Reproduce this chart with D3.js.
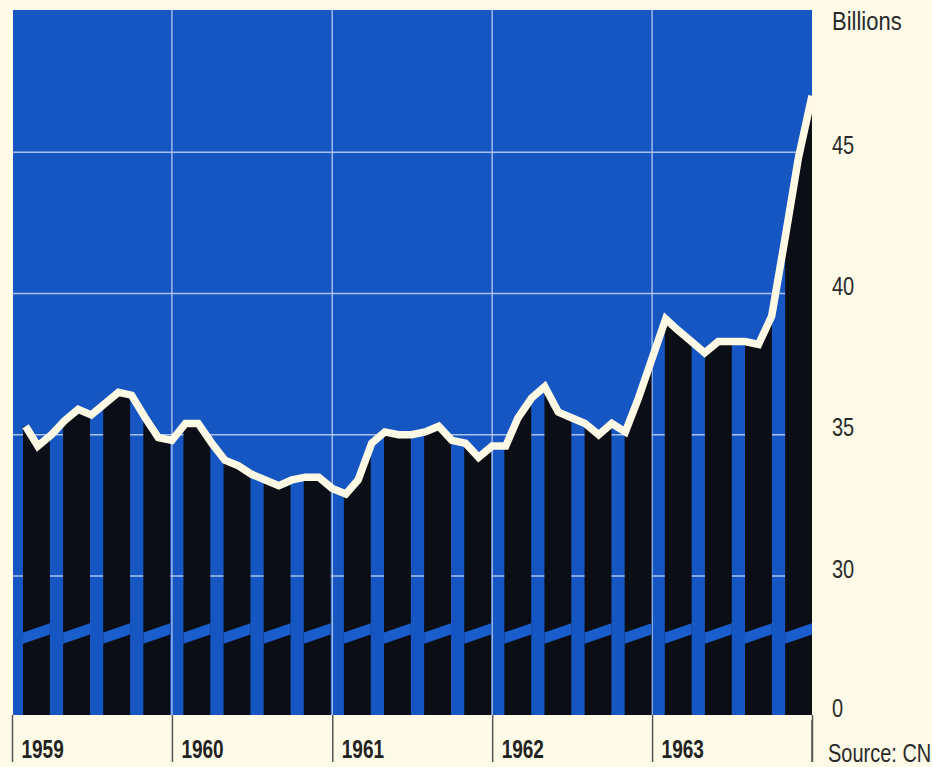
<!DOCTYPE html>
<html lang='en'>
  <head>
    <meta charset='utf-8'>
    <style type='text/css'>
      html, body {margin: 0; padding: 0; background-color: #fdfbe8;}
      #chart {width: 932px; height: 767px;}
      text {font-family: "Liberation Sans", Arial, sans-serif; fill: #2a2a2a;}
    </style>
  </head>
  <body>

    <div id='chart'>
      <svg width='932' height='767'></svg>
    </div>

    <script src='https://d3js.org/d3.v7.min.js'></script>
    <script type='text/javascript'>
        // Data (billions, one value per month, end of month)
        var years = [1959, 1960, 1961, 1962, 1963];

        var values = [
          35.3, 34.6, 35.0, 35.5, 35.9, 35.7, 36.1, 36.5, 36.4, 35.6, 34.9, 34.8,   // 1959
          35.4, 35.4, 34.7, 34.1, 33.9, 33.6, 33.4, 33.2, 33.4, 33.5, 33.5, 33.1,   // 1960
          32.9, 33.4, 34.7, 35.1, 35.0, 35.0, 35.1, 35.3, 34.8, 34.7, 34.2, 34.6,   // 1961
          34.6, 35.6, 36.3, 36.7, 35.8, 35.6, 35.4, 35.0, 35.4, 35.1, 36.3, 37.7,   // 1962
          39.1, 38.7, 38.3, 37.9, 38.3, 38.3, 38.3, 38.2, 39.2, 42.0, 44.8, 47.0    // 1963
        ];

        var tickValues = [0, 30, 35, 40, 45];
        var gridValues = [30, 35, 40, 45];
        var unitLabel = "Billions";
        var sourceLabel = "Source: CN";

        var svg = d3.select("#chart svg");

        var plot = {left: 13, top: 10, right: 812, bottom: 715};

        // squeeze a text horizontally (no condensed face installed)
        function narrow(sel, sx) {
          sel.each(function() {
            var t = d3.select(this);
            var tx = +t.attr("x") || 0, ty = +t.attr("y") || 0;
            t.attr("x", 0).attr("y", 0)
             .attr("transform", "translate(" + tx + "," + ty + ") scale(" + sx + ",1)");
          });
        }

        // Time scale across the five years
        var x = d3.scaleTime()
            .domain([new Date(years[0], 0, 1), new Date(years[years.length - 1] + 1, 0, 1)])
            .range([12, plot.right]);

        // Broken value axis: 0..30 squeezed at the bottom
        var y = d3.scaleLinear()
            .domain([0, 30, 50])
            .range([plot.bottom, 576, 11]);

        var points = values.map(function(v, i) {
          return {date: new Date(years[0], i + 1, 1), value: v};
        });

        // Quarterly bars
        var quarters = [];
        years.forEach(function(yr) {
          for (var q = 1; q <= 4; q++) quarters.push(yr + " Q" + q);
        });
        var xq = d3.scaleBand()
            .domain(quarters)
            .range([23, plot.right])
            .paddingInner(0.33)
            .paddingOuter(0)
            .align(1);

        // Background
        svg.append("rect")
            .attr("x", plot.left)
            .attr("y", plot.top)
            .attr("width", plot.right - plot.left)
            .attr("height", plot.bottom - plot.top)
            .attr("fill", "#1556c2");

        // Grid
        var grid = svg.append("g").attr("stroke", "#a9c3ee").attr("stroke-width", 1.4);
        grid.selectAll(".h")
          .data(gridValues)
          .enter().append("line")
            .attr("x1", plot.left).attr("x2", plot.right)
            .attr("y1", function(d) { return y(d); })
            .attr("y2", function(d) { return y(d); });
        grid.selectAll(".v")
          .data(years.slice(1))
          .enter().append("line")
            .attr("x1", function(d) { return x(new Date(d, 0, 1)); })
            .attr("x2", function(d) { return x(new Date(d, 0, 1)); })
            .attr("y1", plot.top).attr("y2", plot.bottom);

        // Bars: area under the line, clipped to quarter bands
        var clip = svg.append("defs").append("clipPath").attr("id", "bars");
        clip.selectAll("rect")
          .data(quarters)
          .enter().append("rect")
            .attr("x", function(d) { return xq(d); })
            .attr("width", xq.bandwidth())
            .attr("y", plot.top)
            .attr("height", plot.bottom - plot.top);

        var area = d3.area()
            .x(function(d) { return x(d.date); })
            .y0(y(0))
            .y1(function(d) { return y(d.value); });

        var first = {date: new Date(years[0], 0, 1), value: values[0]};
        svg.append("path")
            .datum([first].concat(points))
            .attr("clip-path", "url(#bars)")
            .attr("fill", "#0b0e15")
            .attr("d", area);

        // Break marks across each bar
        svg.append("g").selectAll("path")
          .data(quarters)
          .enter().append("path")
            .attr("fill", "#1a5dcc")
            .attr("d", function(d) {
              var x0 = xq(d), x1 = xq(d) + xq.bandwidth();
              return "M" + x0 + "," + y(17.8) + "L" + x1 + "," + y(19.8) +
                     "L" + x1 + "," + y(17.4) + "L" + x0 + "," + y(15.4) + "Z";
            });

        // White line
        var line = d3.line()
            .x(function(d) { return x(d.date); })
            .y(function(d) { return y(d.value); });

        svg.append("path")
            .datum(points)
            .attr("fill", "none")
            .attr("stroke", "#fdf9e4")
            .attr("stroke-width", 7.5)
            .attr("stroke-linejoin", "miter")
            .attr("d", line);

        // Bottom axis: year ticks with labels to the right of each tick
        var xAxis = svg.append("g")
            .attr("transform", "translate(0," + plot.bottom + ")")
            .call(d3.axisBottom(x).ticks(d3.timeYear.every(1)).tickSize(47).tickFormat(d3.timeFormat("%Y")));
        xAxis.select(".domain").remove();
        xAxis.selectAll(".tick line").attr("stroke", "#555").attr("stroke-width", 1.5);
        xAxis.selectAll(".tick text")
            .attr("text-anchor", "start")
            .attr("x", 9).attr("y", 43).attr("dy", 0)
            .style("font-size", "25px")
            .style("font-weight", "bold")
            .style("fill", "#222")
            .text(function(d) { return d.getFullYear() < years[0] + years.length ? d.getFullYear() : ""; })
            .call(narrow, 0.76);
        // closing tick at the right edge
        svg.append("line")
            .attr("x1", x.range()[1]).attr("x2", x.range()[1])
            .attr("y1", plot.bottom + 5).attr("y2", plot.bottom + 47)
            .attr("stroke", "#555").attr("stroke-width", 1.5);

        // Right value axis
        var yAxis = svg.append("g")
            .attr("transform", "translate(" + plot.right + ",0)")
            .call(d3.axisRight(y).tickValues(tickValues).tickSize(0).tickPadding(20));
        yAxis.select(".domain").remove();
        yAxis.selectAll(".tick text")
            .attr("dy", 0)
            .attr("y", 1)
            .style("font-size", "25px")
            .call(narrow, 0.8);

        svg.append("text")
            .attr("x", 832).attr("y", 30)
            .style("font-size", "25px")
            .text(unitLabel)
            .call(narrow, 0.88);

        svg.append("text")
            .attr("x", 828).attr("y", 762)
            .style("font-size", "25px")
            .text(sourceLabel)
            .call(narrow, 0.8);
    </script>
  </body>
</html>
